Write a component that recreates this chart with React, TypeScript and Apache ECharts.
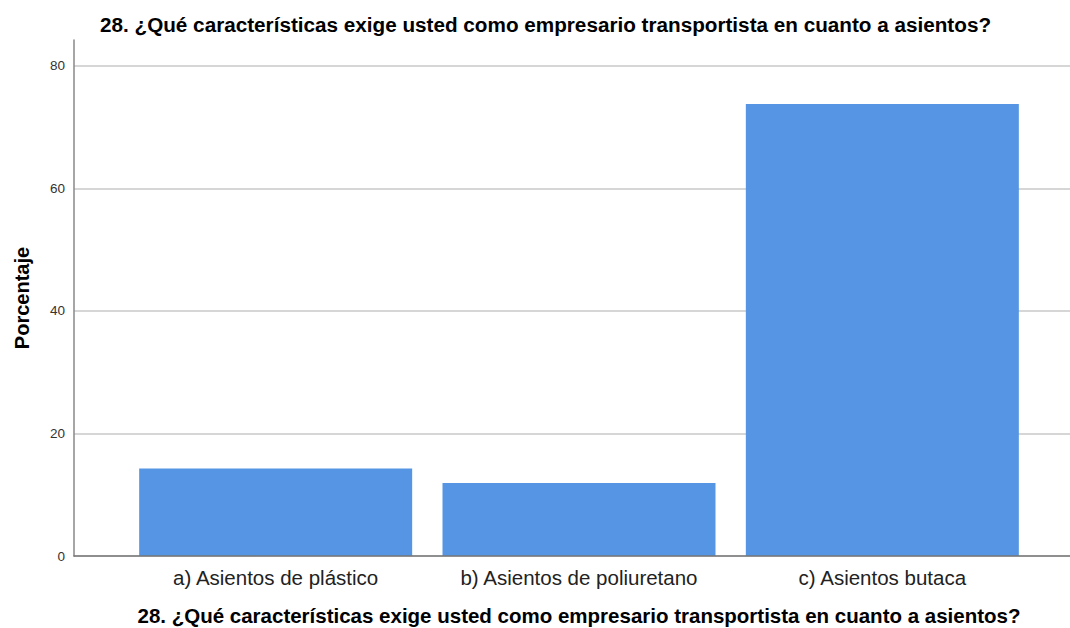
import React, { useEffect, useRef } from "react";
import * as echarts from "echarts";

const titleText = "28. ¿Qué características exige usted como empresario transportista en cuanto a asientos?";
const categories = ["a) Asientos de plástico", "b) Asientos de poliuretano", "c) Asientos butaca"];
const values = [14.3, 11.9, 73.8];
const yMin = 0;
const yMax = 84.24;
const yInterval = 20;
const yName = "Porcentaje";

export default function App() {
  const ref = useRef<HTMLDivElement>(null);
  useEffect(() => {
    if (!ref.current) return;
    const chart = echarts.init(ref.current, null, { renderer: "svg" });
    const font = "'Liberation Sans', Arial, sans-serif";
    chart.setOption({
      animation: false,
      textStyle: { fontFamily: font },
      title: {
        text: titleText,
        left: 95,
        top: 9,
        textStyle: { fontSize: 20.7, fontWeight: "bold", color: "#000", fontFamily: font },
      },
      grid: [
        { left: 74, right: 0, top: 40, bottom: 72, outerBoundsMode: "none", containLabel: false },
        { left: 124, right: 36, top: 40, bottom: 72, outerBoundsMode: "none", containLabel: false },
      ],
      xAxis: [
        {
          type: "category",
          gridIndex: 0,
          data: categories,
          z: 5,
          axisLine: { show: true, lineStyle: { color: "#777", width: 1.5 } },
          axisTick: { show: false },
          axisLabel: { show: false },
        },
        {
          type: "category",
          gridIndex: 1,
          data: categories,
          axisLine: { show: false },
          axisTick: { show: false },
          axisLabel: { color: "#222", fontSize: 20.5, margin: 11, interval: 0, fontFamily: font },
          name: titleText,
          nameLocation: "middle",
          nameGap: 49,
          nameTextStyle: { fontSize: 20.5, fontWeight: "bold", color: "#000", fontFamily: font },
        },
      ],
      yAxis: [
        {
          type: "value",
          gridIndex: 0,
          min: yMin,
          max: yMax,
          interval: yInterval,
          axisLine: { show: true, lineStyle: { color: "#888", width: 1.5 } },
          axisTick: { show: false },
          axisLabel: {
            color: "#333",
            fontSize: 13.5,
            margin: 9,
            showMaxLabel: false,
            formatter: (v: number) => (v % 20 === 0 ? String(v) : ""),
          },
          splitLine: { show: true, showMaxLine: false, lineStyle: { color: "#c8c8c8", width: 1.5 } },
          name: yName,
          nameLocation: "middle",
          nameGap: 42,
          nameTextStyle: { fontSize: 20, fontWeight: "bold", color: "#000", fontFamily: font },
        },
        {
          type: "value",
          gridIndex: 1,
          min: yMin,
          max: yMax,
          interval: yInterval,
          show: false,
          splitLine: { show: false },
        },
      ],
      series: [
        {
          type: "bar",
          xAxisIndex: 1,
          yAxisIndex: 1,
          data: values,
          barCategoryGap: "10%",
          itemStyle: { color: "#5595e3" },
        },
      ],
    });
    return () => chart.dispose();
  }, []);
  return <div ref={ref} style={{ width: 1070, height: 628, position: "absolute", left: 0, top: 0 }} />;
}
